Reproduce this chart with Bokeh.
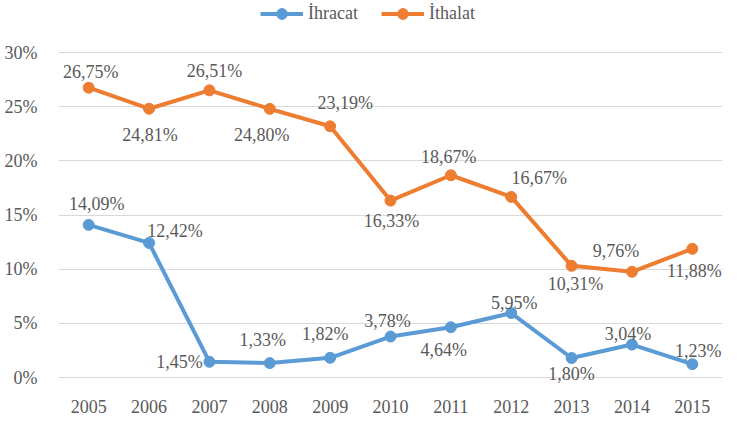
from bokeh.plotting import figure
from bokeh.models import ColumnDataSource, Range1d, FixedTicker, Legend, LegendItem
from bokeh.core.properties import value
from bokeh.embed import file_html
from bokeh.resources import INLINE

years = ["2005", "2006", "2007", "2008", "2009", "2010", "2011", "2012", "2013", "2014", "2015"]
ihracat = [14.09, 12.42, 1.45, 1.33, 1.82, 3.78, 4.64, 5.95, 1.80, 3.04, 1.23]
ithalat = [26.75, 24.81, 26.51, 24.80, 23.19, 16.33, 18.67, 16.67, 10.31, 9.76, 11.88]
y_ticks = [0, 5, 10, 15, 20, 25, 30]
series_names = ["İhracat", "İthalat"]

# label placement (screen px offsets from each point, +dx right, +dy down)
ihr_dx = [8, 26, -30, -7, -5, -3, -7, 3, 0, -4, 6]
ihr_dy = [-21, -12, 0, -23, -24, -16, 23, -10, 16, -11, -13]
ith_dx = [2, 1, 5, -8, 15, 1, -2, 28, 4, -16, 2]
ith_dy = [-16, 26, -19, 26, -23, 20, -18, -19, 18, -21, 22]

BLUE = "#5B9BD5"
ORANGE = "#ED7D31"
GRAY = "#595959"
FONT = "Liberation Serif"

FRAME_W, FRAME_H = 664, 385
ZERO_Y = 377          # screen y of the 0% line
px_per_pct = 10.833
y_end = ZERO_Y / px_per_pct
y_start = -(FRAME_H - ZERO_Y) / px_per_pct

p = figure(frame_width=FRAME_W, frame_height=FRAME_H, x_range=years, y_range=Range1d(y_start, y_end),
           output_backend="svg", toolbar_location=None,
           min_border_left=58, min_border_right=16, min_border_top=0, min_border_bottom=0)
p.outline_line_color = None
p.background_fill_color = "white"
p.border_fill_color = "white"

p.xgrid.grid_line_color = None
p.ygrid.grid_line_color = "#D9D9D9"
p.ygrid.grid_line_width = 1
p.yaxis.ticker = FixedTicker(ticks=y_ticks)
p.yaxis.major_label_overrides = {t: f"{t}%" for t in y_ticks}

for ax in (p.xaxis[0], p.yaxis[0]):
    ax.axis_line_color = None
    ax.major_tick_line_color = None
    ax.minor_tick_line_color = None
    ax.major_label_text_font = FONT
    ax.major_label_text_font_size = "18px"
    ax.major_label_text_color = GRAY
p.yaxis.major_label_standoff = 15
p.xaxis.major_label_standoff = 8

def fmt(v):
    return f"{v:.2f}".replace(".", ",") + "%"

renderers = []
for vals, dx, dy, color in ((ihracat, ihr_dx, ihr_dy, BLUE), (ithalat, ith_dx, ith_dy, ORANGE)):
    src = ColumnDataSource(dict(x=years, y=vals, lbl=[fmt(v) for v in vals], dx=dx, dy=dy))
    ln = p.line("x", "y", source=src, line_color=color, line_width=4, line_join="round")
    sc = p.scatter("x", "y", source=src, size=11, fill_color=color, line_color=color)
    p.text("x", "y", text="lbl", source=src, x_offset="dx", y_offset="dy",
           text_font=value(FONT), text_font_size="18px", text_color=GRAY,
           text_align="center", text_baseline="middle")
    renderers.append([ln, sc])

legend = Legend(items=[LegendItem(label=series_names[i], renderers=renderers[i]) for i in range(2)],
                orientation="horizontal", location=(202, FRAME_H - 27),
                glyph_width=43, glyph_height=27, label_height=16, label_standoff=5, spacing=23,
                padding=0, margin=0, border_line_color=None, background_fill_alpha=0,
                label_text_font=FONT, label_text_font_size="18px", label_text_color=GRAY)
p.add_layout(legend, "center")

open("out.html", "w").write(file_html(p, INLINE))
